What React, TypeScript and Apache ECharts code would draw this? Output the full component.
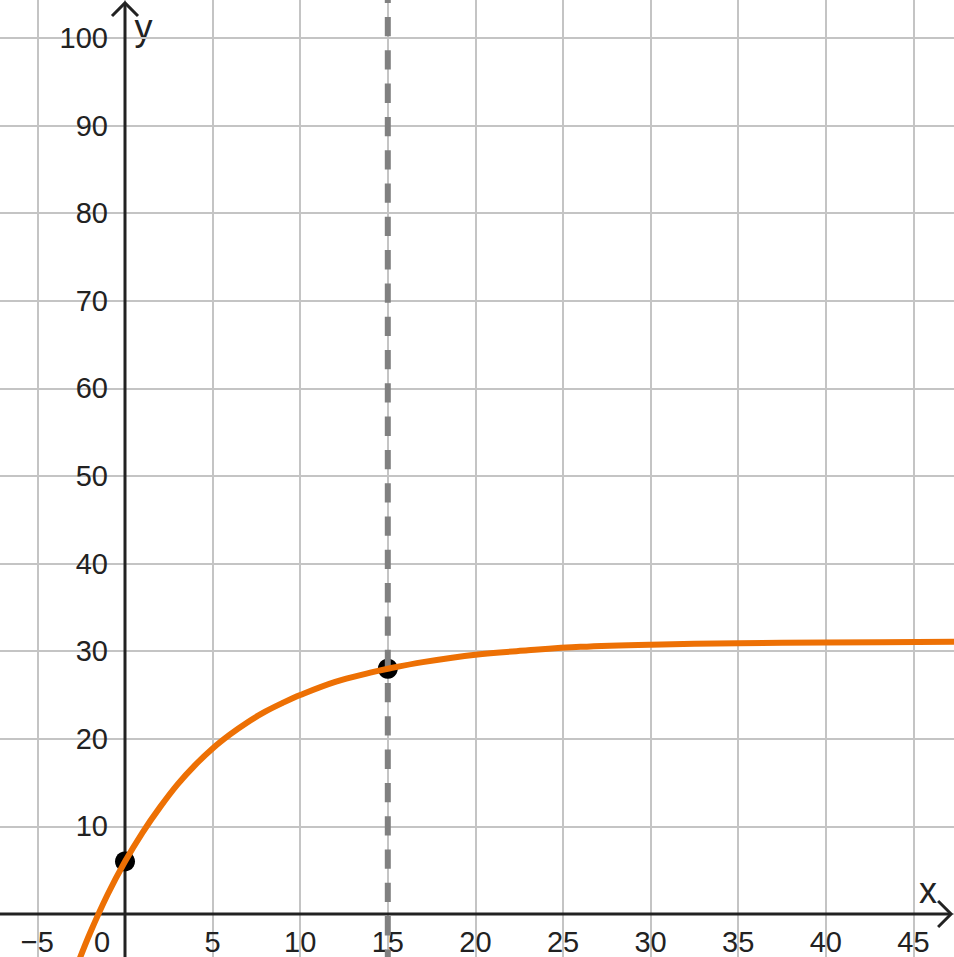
import React, { useEffect, useRef } from "react";
import * as echarts from "echarts";

// ---- data ----
const curveX = [-2.8, -2, -1, 0, 1, 2, 3, 4, 5, 6, 7, 8, 9, 10, 12, 14, 15, 17, 20, 23, 26, 30, 35, 40, 48];
const curveY = [-6.2, -2.2, 2.2, 6.0, 9.3, 12.2, 14.8, 17.0, 18.9, 20.5, 21.9, 23.1, 24.1, 25.0, 26.5, 27.55, 28.0, 28.75, 29.6, 30.1, 30.5, 30.75, 30.92, 31.0, 31.07];
const pointsX = [0, 15];
const pointsY = [6, 28];
const dashedX = 15;

// axis extents (data units)
const xMin = -10;
const xMax = 50;
const xStep = 5;
const yMin = -10;
const yMax = 110;
const yStep = 10;
const xLabelMin = -5;
const xLabelMax = 45;
const yLabelMin = 10;
const yLabelMax = 100;
const xArrowTip = 47.15;
const yArrowTip = 104.0;

const FONT = "'Liberation Sans', Arial, Helvetica, sans-serif";
const TEXT = "#222222";

const fmtNum = (v: number) => (v < 0 ? "\u2212" + Math.abs(v) : String(v));

// layout (pixels)
const GRID_LEFT = -50.2;
const GRID_RIGHT = -47;
const GRID_TOP = -49.6;
const GRID_BOTTOM = -44.6;
const ORIGIN_X = 125;
const ORIGIN_Y = 914;
const H = 957;

export default function App() {
  const ref = useRef<HTMLDivElement>(null);
  useEffect(() => {
    if (!ref.current) return;
    const chart = echarts.init(ref.current, null, { renderer: "svg" });
    const curveData = curveX.map((x, i) => [x, curveY[i]]);
    const pointData = pointsX.map((x, i) => [x, pointsY[i]]);
    const axisTips = [
      [xArrowTip, 0],
      [0, yArrowTip],
    ];
    const axisStarts = [
      [xMin, 0],
      [0, yMin],
    ];
    const option: any = {
      animation: false,
      backgroundColor: "#ffffff",
      grid: {
        left: GRID_LEFT,
        right: GRID_RIGHT,
        top: GRID_TOP,
        bottom: GRID_BOTTOM,
        containLabel: false,
        outerBoundsMode: "none",
      },
      xAxis: {
        type: "value",
        position: "bottom",
        offset: -(H - GRID_BOTTOM - ORIGIN_Y),
        min: xMin,
        max: xMax,
        interval: xStep,
        axisLine: { show: false, onZero: false },
        axisTick: { show: false },
        splitLine: { show: true, lineStyle: { color: "#c4c4c4", width: 2 } },
        axisLabel: {
          show: true,
          interval: 0,
          hideOverlap: false,
          showMinLabel: true,
          showMaxLabel: true,
          margin: 13,
          color: TEXT,
          fontSize: 29,
          fontFamily: FONT,
          formatter: (v: number) => {
            if (v < xLabelMin || v > xLabelMax) return "";
            if (v === 0) return "{z|0}";
            return fmtNum(v);
          },
          rich: {
            z: { padding: [0, 46, 0, 0], fontSize: 29, fontFamily: FONT, color: TEXT },
          },
        },
      },
      yAxis: {
        type: "value",
        position: "left",
        offset: -(ORIGIN_X - GRID_LEFT),
        min: yMin,
        max: yMax,
        interval: yStep,
        axisLine: { show: false, onZero: false },
        axisTick: { show: false },
        splitLine: { show: true, lineStyle: { color: "#c4c4c4", width: 2 } },
        axisLabel: {
          show: true,
          interval: 0,
          hideOverlap: false,
          showMinLabel: true,
          showMaxLabel: true,
          margin: 17,
          color: TEXT,
          fontSize: 29,
          fontFamily: FONT,
          padding: [4, 0, 0, 0],
          formatter: (v: number) => (v < yLabelMin || v > yLabelMax ? "" : fmtNum(v)),
        },
      },
      graphic: [
        {
          type: "text",
          x: 143.5,
          y: 27,
          style: { text: "y", fontSize: 36, fontFamily: FONT, fill: TEXT, align: "center", verticalAlign: "middle" },
        },
        {
          type: "text",
          x: 928,
          y: 890.5,
          style: { text: "x", fontSize: 36, fontFamily: FONT, fill: TEXT, align: "center", verticalAlign: "middle" },
        },
      ],
      series: [
        {
          type: "custom",
          silent: true,
          data: axisTips,
          renderItem: (params: any, api: any) => {
            const i = params.dataIndex;
            const tip = api.coord([api.value(0), api.value(1)]);
            const start = api.coord(axisStarts[i]);
            const a = 13;
            const pts =
              i === 0
                ? [
                    [tip[0] - a, tip[1] - a],
                    [tip[0], tip[1]],
                    [tip[0] - a, tip[1] + a],
                  ]
                : [
                    [tip[0] - a, tip[1] + a],
                    [tip[0], tip[1]],
                    [tip[0] + a, tip[1] + a],
                  ];
            return {
              type: "group",
              children: [
                {
                  type: "line",
                  shape: { x1: start[0], y1: start[1], x2: tip[0], y2: tip[1] },
                  style: { stroke: "#222222", lineWidth: 3 },
                },
                {
                  type: "polyline",
                  shape: { points: pts },
                  style: { stroke: "#222222", lineWidth: 3, fill: "none" },
                },
              ],
            };
          },
        },
        {
          type: "line",
          data: [
            [dashedX, yMax],
            [dashedX, yMin],
          ],
          showSymbol: false,
          symbol: "none",
          silent: true,
          lineStyle: { color: "#808080", width: 6, type: [19.3, 14], dashOffset: 0 },
        },
        {
          type: "line",
          data: curveData,
          smooth: 0.35,
          showSymbol: false,
          symbol: "none",
          silent: true,
          lineStyle: { color: "#ED7004", width: 6 },
        },
        {
          type: "scatter",
          data: pointData,
          symbolSize: 20,
          silent: true,
          itemStyle: { color: "#000000", opacity: 1 },
        },
      ],
    };
    chart.setOption(option);
    return () => chart.dispose();
  }, []);
  return (
    <div
      ref={ref}
      style={{ position: "absolute", left: 0, top: 0, width: 954, height: 957 }}
    />
  );
}
